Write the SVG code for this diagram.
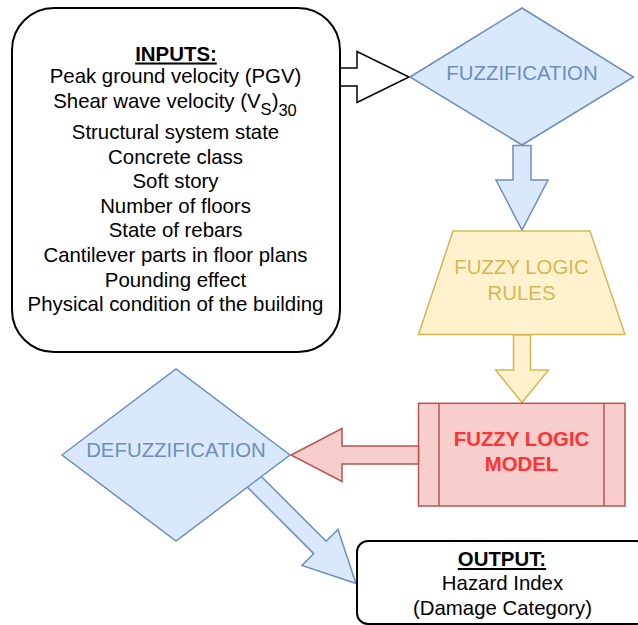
<svg xmlns="http://www.w3.org/2000/svg" width="638" height="625" viewBox="0 0 638 625">
<style>
text{font-family:"Liberation Sans",Arial,sans-serif;font-size:20.4px;text-anchor:middle}
.blk{fill:#000}
.bl{fill:#dae8fc;stroke:#6c8ebf;stroke-width:1.5}
.ye{fill:#fff2cc;stroke:#d6b656;stroke-width:1.5}
.rd{fill:#f8cecc;stroke:#b85450;stroke-width:1.5}
.tb{fill:#6c8ebf}
.ty{fill:#d6b656}
.tr{fill:#ff3333;font-weight:bold}
.hd{font-weight:bold;text-decoration:underline}
.sub{font-size:16.5px}
</style>
<rect width="638" height="625" fill="#ffffff"/>
<g id="connectors">
<path id="arrow-inputs-fuzz" d="M340,68 H357 V51.5 L409,77 L357,102.5 V86 H340" fill="#ffffff" stroke="#000" stroke-width="1.5"/>
<path id="arrow-defuzz-output" class="bl" transform="translate(356,583.5) rotate(45)" d="M-150,-8.75 H-51 V-25.5 L0,0 L-51,25.5 V8.75 H-150 Z"/>
</g>
<g id="inputs">
<rect x="12" y="8" width="328" height="344" rx="42" fill="#ffffff" stroke="#000" stroke-width="2"/>
<text x="176" y="60.5" class="hd">INPUTS:</text>
<text x="175.5" y="83">Peak ground velocity (PGV)</text>
<text x="175" y="108.3">Shear wave velocity (V<tspan class="sub" dy="6.5">S</tspan><tspan dy="-6.5">)</tspan><tspan class="sub" dy="8">30</tspan></text>
<text x="175.5" y="139">Structural system state</text>
<text x="175.5" y="163.5">Concrete class</text>
<text x="175.5" y="188">Soft story</text>
<text x="175.5" y="212.7">Number of floors</text>
<text x="175.5" y="237.3">State of rebars</text>
<text x="175.5" y="262">Cantilever parts in floor plans</text>
<text x="175.5" y="286.5">Pounding effect</text>
<text x="175.5" y="311">Physical condition of the building</text>
</g>
<g id="fuzzification">
<polygon class="bl" points="410,77 522,8 633.5,77 522,145"/>
<text x="522" y="80" class="tb">FUZZIFICATION</text>
</g>
<g id="conn-fuzz-rules">
<path class="bl" d="M513,145.5 V180 H496 L522,230 L548,180 H531 V145.5 Z"/>
</g>
<g id="rules">
<polygon class="ye" points="453,231 590,231 625,334.5 418.5,334.5"/>
<text x="521.5" y="274" class="ty">FUZZY LOGIC</text>
<text x="521.5" y="299.5" class="ty">RULES</text>
</g>
<g id="conn-rules-model">
<path class="ye" d="M513.5,335 V370 H495.5 L522,402.5 L548.5,370 H530.5 V335 Z"/>
</g>
<g id="model">
<rect class="rd" x="418.5" y="403.3" width="206.5" height="102.7"/>
<line x1="439" y1="403.3" x2="439" y2="506" stroke="#b85450" stroke-width="1.5"/>
<line x1="604" y1="403.3" x2="604" y2="506" stroke="#b85450" stroke-width="1.5"/>
<text x="521.5" y="445.7" class="tr">FUZZY LOGIC</text>
<text x="521.5" y="471" class="tr">MODEL</text>
</g>
<g id="conn-model-defuzz">
<path class="rd" d="M418.5,446 H342 V428.5 L291,455 L342,481.5 V464 H418.5 Z"/>
</g>
<g id="defuzzification">
<polygon class="bl" points="62,455 176,369 290,455 176,541"/>
<text x="176" y="457.3" class="tb">DEFUZZIFICATION</text>
</g>
<g id="output">
<rect x="357" y="541" width="290" height="83" rx="11" fill="#ffffff" stroke="#000" stroke-width="2"/>
<text x="502" y="566" class="hd">OUTPUT:</text>
<text x="502.5" y="590">Hazard Index</text>
<text x="502.5" y="615">(Damage Category)</text>
</g>
</svg>
